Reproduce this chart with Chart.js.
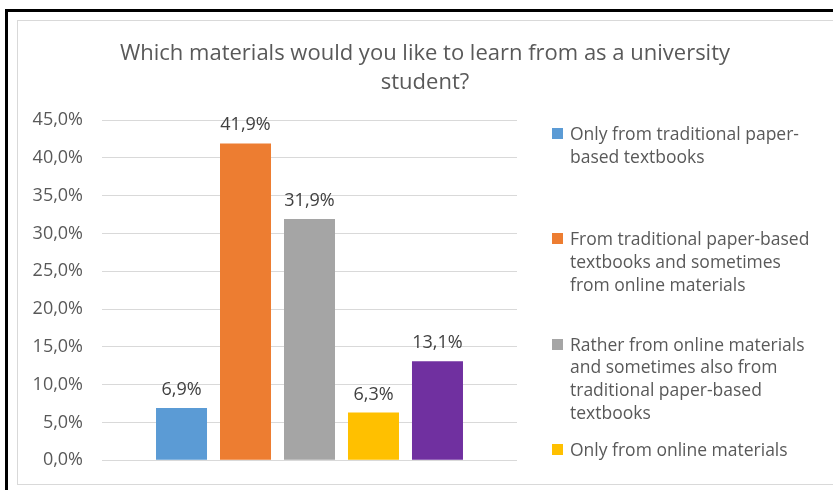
<!DOCTYPE html>
<html>
<head>
<meta charset="utf-8">
<script src="https://cdn.jsdelivr.net/npm/chart.js@4/dist/chart.umd.min.js"></script>
<style>
  html, body { margin: 0; padding: 0; background: #fff; }
  body { width: 833px; height: 490px; position: relative; overflow: hidden; font-family: 'Open Sans', sans-serif; }
  #frame { position: absolute; left: 5px; top: 9px; width: 840px; height: 500px; border-top: 3px solid #000; border-left: 3px solid #000; box-sizing: border-box; }
  #box { position: absolute; left: 17px; top: 20px; width: 830px; height: 465px; border: 1px solid #d9d9d9; box-sizing: border-box; }
  #chart { position: absolute; left: 0; top: 0; }
  #title { position: absolute; left: 17px; top: 37px; width: 816px; text-align: center; font-size: 22px; line-height: 29px; color: #595959; }
  #legend { position: absolute; left: 552px; top: 122px; width: 280px; height: 361px; overflow: hidden; }
  .item { position: relative; height: 105.3px; }
  .item i { position: absolute; left: 0; top: 6px; width: 11px; height: 11px; }
  .item span { position: absolute; left: 18px; top: 0; font-size: 17.5px; line-height: 22.7px; color: #595959; white-space: nowrap; }
</style>
</head>
<body>
<div id="frame"></div>
<div id="box"></div>
<canvas id="chart" width="833" height="490"></canvas>
<div id="title">Which materials would you like to learn from as a university<br>student?</div>
<div id="legend"></div>
<script>
const answers = [
  ['Only from traditional paper-', 'based textbooks'],
  ['From traditional paper-based', 'textbooks and sometimes', 'from online materials'],
  ['Rather from online materials', 'and sometimes also from', 'traditional paper-based', 'textbooks'],
  ['Only from online materials'],
  ['Other']
];
const shares = [6.9, 41.9, 31.9, 6.3, 13.1];
const colors = ['#5B9BD5', '#ED7D31', '#A5A5A5', '#FFC000', '#7030A0'];
const yMax = 45;
const yStep = 5;

const pct = v => v.toFixed(1).replace('.', ',') + '%';

// value labels above each bar
const barLabels = {
  id: 'barLabels',
  afterDatasetsDraw(chart) {
    const ctx = chart.ctx;
    ctx.save();
    ctx.font = '18px "Open Sans"';
    ctx.fillStyle = '#404040';
    ctx.textAlign = 'center';
    ctx.textBaseline = 'alphabetic';
    chart.data.datasets.forEach((ds, i) => {
      chart.getDatasetMeta(i).data.forEach((bar, j) => {
        ctx.fillText(pct(ds.data[j]), bar.x, bar.y - 13);
      });
    });
    ctx.restore();
  }
};

Chart.defaults.font.family = '"Open Sans", sans-serif';

const chart = new Chart(document.getElementById('chart'), {
  type: 'bar',
  data: {
    labels: [''],
    datasets: answers.map((lines, i) => ({
      label: lines.join(' '),
      data: [shares[i]],
      backgroundColor: colors[i],
      categoryPercentage: 0.771,
      barPercentage: 0.797
    }))
  },
  options: {
    responsive: false,
    animation: false,
    devicePixelRatio: 1,
    layout: { padding: { left: 0, top: 120, right: 316, bottom: 29 } },
    plugins: {
      legend: { display: false },
      title: { display: false },
      tooltip: { enabled: false }
    },
    scales: {
      x: { display: false },
      y: {
        min: 0,
        max: yMax,
        afterFit: s => { s.width = 102; },
        border: { display: false },
        grid: { color: '#d9d9d9', lineWidth: 1, drawTicks: false },
        ticks: {
          stepSize: yStep,
          padding: 19,
          color: '#595959',
          font: { size: 18 },
          callback: v => pct(v)
        }
      }
    }
  },
  plugins: [barLabels]
});

// legend built from the datasets
const legend = document.getElementById('legend');
chart.data.datasets.forEach((ds, i) => {
  const item = document.createElement('div');
  item.className = 'item';
  const sw = document.createElement('i');
  sw.style.background = ds.backgroundColor;
  const txt = document.createElement('span');
  txt.innerHTML = answers[i].join('<br>');
  item.appendChild(sw);
  item.appendChild(txt);
  legend.appendChild(item);
});
</script>
</body>
</html>
